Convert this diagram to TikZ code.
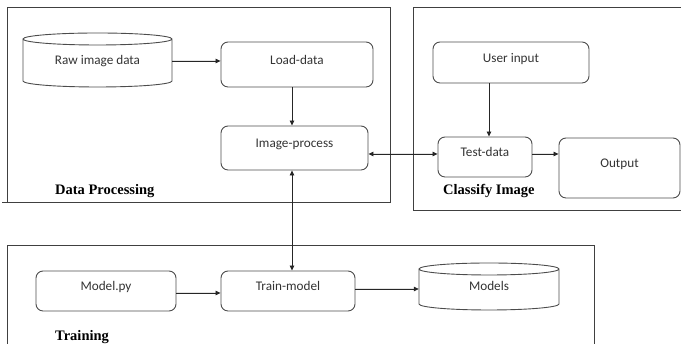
\documentclass[tikz,border=0pt]{standalone}
\usepackage{fontspec}
\setmainfont{Carlito}
\newfontfamily\labfont{Liberation Serif}
\usetikzlibrary{arrows.meta}
\begin{document}
\begin{tikzpicture}[x=1pt,y=1pt,
  frame/.style={draw=black!75, line width=0.9pt},
  rbox/.style={draw=black!70, line width=0.9pt, rounded corners=7pt,
    font=\fontsize{13.2}{15}\selectfont, text=black!80,
    text height=6pt, text depth=6pt, inner sep=0pt},
  cyltext/.style={font=\fontsize{13.2}{15}\selectfont, text=black!80,
    text height=9pt, text depth=0pt, inner sep=0pt},
  cylline/.style={draw=black!70, line width=0.9pt},
  grp/.style={font=\labfont\bfseries\fontsize{14.5}{16}\selectfont,
    anchor=base west, inner sep=0pt},
  tip/.tip={Triangle[length=5pt,width=4.5pt]},
  arr/.style={-tip, line width=0.8pt, draw=black!85, fill=black!85},
  darr/.style={tip-tip, line width=0.8pt, draw=black!85, fill=black!85}
]
\useasboundingbox (0,0) rectangle (681,344);

% group frames
\draw[frame] (7,142) rectangle (390,337);
\draw[frame] (2,142) -- (7,142);
\draw[frame] (413,134) rectangle (700,337);
\draw[frame] (7,-20) rectangle (594,99);

% cylinders
\draw[cylline] (23,305) -- (23,263)
  arc[start angle=180, end angle=360, x radius=74.5pt, y radius=6pt]
  -- (172,305)
  arc[start angle=0, end angle=180, x radius=74.5pt, y radius=6pt]
  arc[start angle=180, end angle=360, x radius=74.5pt, y radius=6pt];
\draw[cylline] (419,75) -- (419,40)
  arc[start angle=180, end angle=360, x radius=70pt, y radius=6pt]
  -- (559,75)
  arc[start angle=0, end angle=180, x radius=70pt, y radius=6pt]
  arc[start angle=180, end angle=360, x radius=70pt, y radius=6pt];

% nodes
\node[cyltext, minimum width=149pt, minimum height=54pt] (raw) at (97.5,284) {Raw image data};
\node[rbox, minimum width=152pt, minimum height=45pt] (load) at (297,279.5) {Load-data};
\node[rbox, minimum width=147pt, minimum height=44pt] (proc) at (294.5,196) {Image-process};
\node[rbox, minimum width=156pt, minimum height=41pt] (user) at (511,281.5) {User input};
\node[rbox, minimum width=94pt, minimum height=40pt] (test) at (485,187) {Test-data};
\node[rbox, minimum width=121pt, minimum height=60pt] (out) at (619.5,176) {Output};
\node[rbox, minimum width=140pt, minimum height=40pt] (model) at (106,53) {Model.py};
\node[rbox, minimum width=134pt, minimum height=40pt] (train) at (288,53) {Train-model};
\node[cyltext, minimum width=140pt, minimum height=47pt] (models) at (489,57.5) {Models};

% group labels
\node[grp] (dplab) at (55,149) {Data Processing};
\node[grp] (cilab) at (443,149) {Classify Image};
\node[grp] (trlab) at (55,3.6) {Training};

% connectors
\draw[arr] ([yshift=-1]raw.east) -- ([yshift=-1]raw.east -| load.west);
\draw[arr] ([xshift=-2.5]proc.north |- load.south) -- ([xshift=-2.5]proc.north);
\draw[darr] ([yshift=3]test.west -| proc.east) -- ([yshift=3]test.west);
\draw[arr] ([xshift=4]test.north |- user.south) -- ([xshift=4]test.north);
\draw[arr] ([yshift=3]test.east) -- ([yshift=3]test.east -| out.west);
\draw[darr] ([xshift=-2.5]proc.south) -- ([xshift=-2.5]proc.south |- train.north);
\draw[arr] ([yshift=-2]model.east) -- ([yshift=-2]model.east -| train.west);
\draw[arr] ([yshift=2]train.east) -- ([yshift=2]train.east -| models.west);
\end{tikzpicture}
\end{document}
